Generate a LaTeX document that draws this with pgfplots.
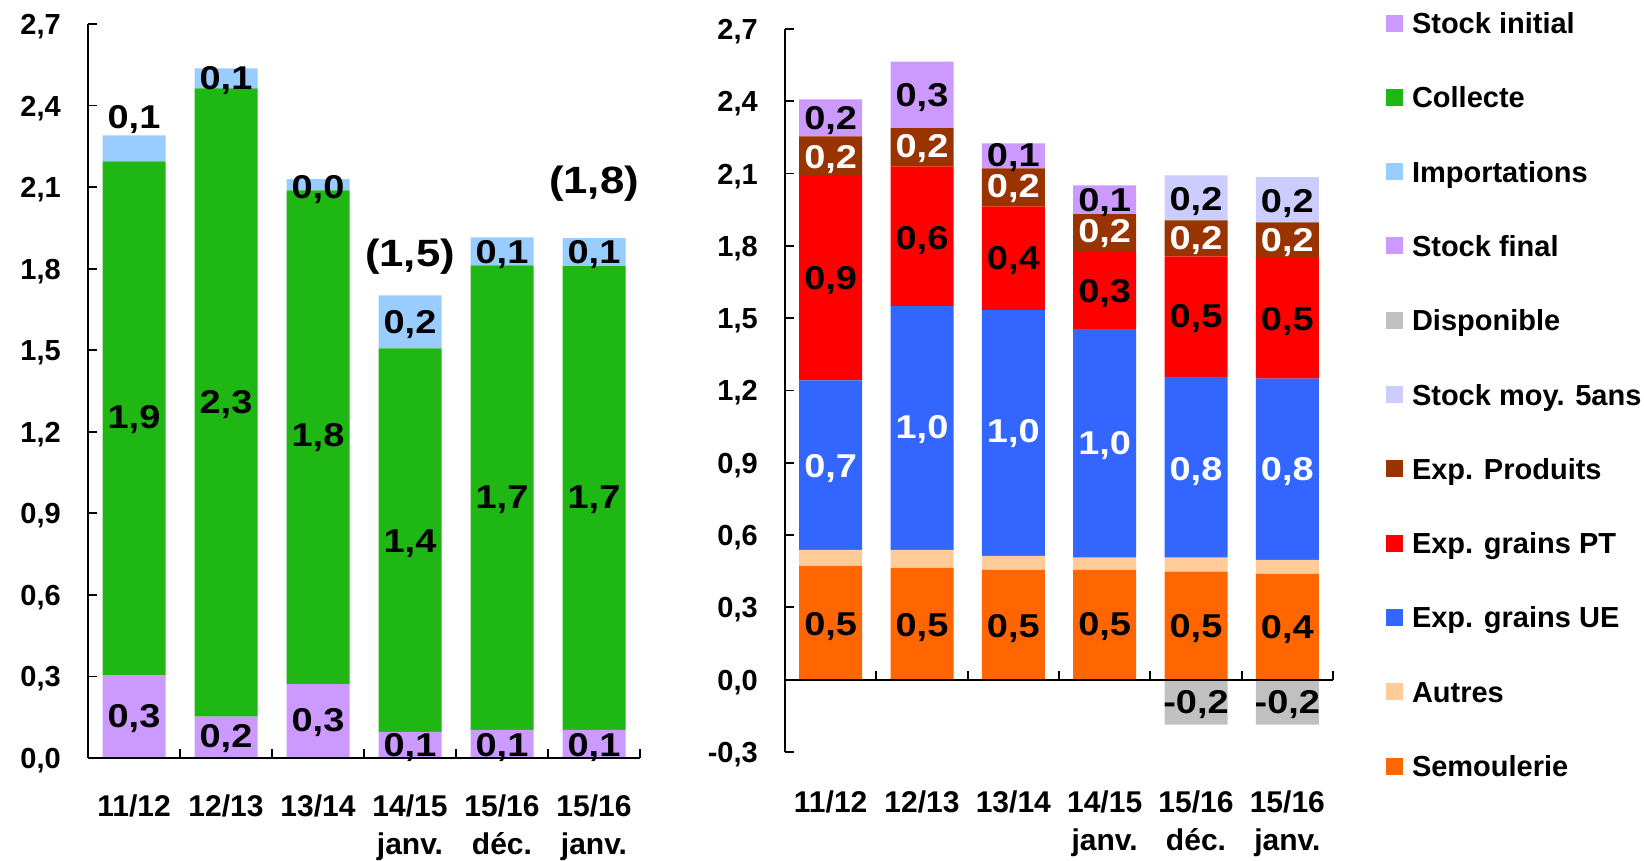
\documentclass[border=0pt]{standalone}
\usepackage{fontspec}
\setmainfont{Liberation Sans}
\newfontfamily\numfont{Liberation Sans}[FakeStretch=1.15]
\usepackage{pgfplots}
\pgfplotsset{compat=1.18}

\definecolor{cstock}{HTML}{CC99FF}
\definecolor{ccoll}{HTML}{1FB714}
\definecolor{cimp}{HTML}{99CCFF}
\definecolor{cdisp}{HTML}{C0C0C0}
\definecolor{cmoy}{HTML}{CCCCFF}
\definecolor{cprod}{HTML}{993300}
\definecolor{cpt}{HTML}{FF0000}
\definecolor{cue}{HTML}{3366FF}
\definecolor{caut}{HTML}{FFCC99}
\definecolor{csem}{HTML}{FF6600}

\newcommand{\lblfont}{\fontsize{33}{37}\selectfont\numfont\bfseries}
\newcommand{\bigfont}{\fontsize{38}{42}\selectfont\numfont\bfseries}
\tikzset{lab/.style={font=\lblfont, inner sep=0pt, text height=23pt, text depth=0pt, anchor=center},
         wlab/.style={lab, text=white}}

\pgfplotsset{
  mybar/.style={
    scale only axis, axis on top, enlargelimits=false,
    xmin=-0.5, xmax=5.5,
    axis x line*=bottom, axis y line*=left,
    axis line style={line width=1.8pt, -},
    tick align=inside,
    major tick length=9pt, minor tick length=9pt,
    tick style={line width=1.8pt, black},
    xtick={0,...,5},
    xticklabels={{11/12\\\mbox{}},{12/13\\\mbox{}},{13/14\\\mbox{}},{14/15\\janv.},{15/16\\déc.},{15/16\\janv.}},
    major x tick style={draw=none},
    xticklabel style={align=center, anchor=base, inner sep=0pt,
      font=\fontsize{30}{38}\selectfont\bfseries},
    yticklabel style={anchor=east, xshift=-27pt, inner sep=0pt, text height=21pt, text depth=0pt,
      font=\fontsize{29}{34}\selectfont\bfseries},
    /pgf/number format/use comma, /pgf/number format/fixed,
    /pgf/number format/fixed zerofill, /pgf/number format/precision=1,
    /pgf/number format/assume math mode=true,
    ybar stacked, bar width=63pt,
  },
  overlay/.style={scale only axis, enlargelimits=false, hide axis, clip=false,
    xmin=-0.5, xmax=5.5}
}

\begin{document}
\begin{tikzpicture}
\useasboundingbox (0,0) rectangle (1644pt,861pt);

% ---------------- Left panel ----------------
\begin{axis}[mybar, at={(88pt,103pt)}, anchor=south west, width=552pt, height=734pt,
  ymin=0, ymax=2.7, ytick={0,0.3,0.6,0.9,1.2,1.5,1.8,2.1,2.4,2.7},
  minor xtick={0.5,1.5,2.5,3.5,4.5,5.5},
  xticklabel style={yshift=-97pt}]
\addplot[fill=cstock, draw=none] coordinates {(0,0.305) (1,0.152) (2,0.272) (3,0.096) (4,0.103) (5,0.103)};
\addplot[fill=ccoll, draw=none] coordinates {(0,1.890) (1,2.311) (2,1.816) (3,1.411) (4,1.709) (5,1.706)};
\addplot[fill=cimp, draw=none] coordinates {(0,0.095) (1,0.074) (2,0.041) (3,0.195) (4,0.103) (5,0.103)};
\end{axis}

% labels of the left panel (drawn above the bars)
\begin{axis}[overlay, at={(88pt,103pt)}, anchor=south west, width=552pt, height=734pt,
  ymin=0, ymax=2.7]
\node[lab] at (axis cs:0,0.154) {0,3};
\node[lab] at (axis cs:0,1.254) {1,9};
\node[lab] at (axis cs:0,2.357) {0,1};
\node[lab] at (axis cs:1,0.081) {0,2};
\node[lab] at (axis cs:1,1.310) {2,3};
\node[lab] at (axis cs:1,2.500) {0,1};
\node[lab] at (axis cs:2,0.140) {0,3};
\node[lab] at (axis cs:2,1.187) {1,8};
\node[lab] at (axis cs:2,2.100) {0,0};
\node[lab] at (axis cs:3,0.048) {0,1};
\node[lab] at (axis cs:3,0.800) {1,4};
\node[lab] at (axis cs:3,1.603) {0,2};
\node[lab, font=\bigfont, text height=27pt] at (axis cs:3,1.856) {(1,5)};
\node[lab] at (axis cs:4,0.048) {0,1};
\node[lab] at (axis cs:4,0.960) {1,7};
\node[lab] at (axis cs:4,1.860) {0,1};
\node[lab] at (axis cs:5,0.048) {0,1};
\node[lab] at (axis cs:5,0.960) {1,7};
\node[lab] at (axis cs:5,1.860) {0,1};
\node[lab, font=\bigfont, text height=27pt] at (axis cs:5,2.125) {(1,8)};
\end{axis}

% ---------------- Right panel ----------------
\begin{axis}[mybar, at={(785pt,109pt)}, anchor=south west, width=548pt, height=723pt,
  ymin=-0.3, ymax=2.7, ytick={-0.3,0,0.3,0.6,0.9,1.2,1.5,1.8,2.1,2.4,2.7},
  x axis line style={draw=none},
  xticklabel style={yshift=-99pt},
  legend image code/.code={\fill[#1, draw=none] (0pt,-8.5pt) rectangle (17pt,8.5pt);},
  legend cell align=left,
  legend style={at={(1.0967,1.0228)}, anchor=north west, draw=none, fill=none,
    inner sep=0pt, outer sep=0pt, row sep=53.3pt, column sep=9pt,
    font=\fontsize{29}{34}\selectfont\bfseries,
    nodes={inner sep=0pt, text height=21pt, text depth=0pt}}]
\addplot[fill=csem, draw=none, forget plot] coordinates {(0,0.472) (1,0.464) (2,0.456) (3,0.456) (4,0.448) (5,0.439)};
\addplot[fill=caut, draw=none, forget plot] coordinates {(0,0.067) (1,0.075) (2,0.058) (3,0.050) (4,0.058) (5,0.058)};
\addplot[fill=cue, draw=none, forget plot] coordinates {(0,0.703) (1,1.011) (2,1.019) (3,0.949) (4,0.750) (5,0.752)};
\addplot[fill=cpt, draw=none, forget plot] coordinates {(0,0.847) (1,0.580) (2,0.431) (3,0.319) (4,0.501) (5,0.500)};
\addplot[fill=cprod, draw=none, forget plot] coordinates {(0,0.165) (1,0.159) (2,0.158) (3,0.158) (4,0.149) (5,0.149)};
\addplot[fill=cstock, draw=none, forget plot] coordinates {(0,0.154) (1,0.276) (2,0.103) (3,0.119) (4,0) (5,0)};
\addplot[fill=cmoy, draw=none, forget plot] coordinates {(0,0) (1,0) (2,0) (3,0) (4,0.187) (5,0.187)};

\addlegendimage{fill=cstock}\addlegendentry{Stock initial}
\addlegendimage{fill=ccoll}\addlegendentry{Collecte}
\addlegendimage{fill=cimp}\addlegendentry{Importations}
\addlegendimage{fill=cstock}\addlegendentry{Stock final}
\addlegendimage{fill=cdisp}\addlegendentry{Disponible}
\addlegendimage{fill=cmoy}\addlegendentry{Stock moy. 5ans}
\addlegendimage{fill=cprod}\addlegendentry{Exp. Produits}
\addlegendimage{fill=cpt}\addlegendentry{Exp. grains PT}
\addlegendimage{fill=cue}\addlegendentry{Exp. grains UE}
\addlegendimage{fill=caut}\addlegendentry{Autres}
\addlegendimage{fill=csem}\addlegendentry{Semoulerie}
\end{axis}

% ---------------- Right panel: negative "Disponible" bars, zero line and labels ----------------
\begin{axis}[overlay, at={(785pt,109pt)}, anchor=south west, width=548pt, height=723pt,
  ymin=-0.3, ymax=2.7, ybar, bar width=63pt]
\addplot[fill=cdisp, draw=none] coordinates {(4,-0.186) (5,-0.186)};
\draw[line width=1.8pt] (axis cs:-0.5,0) -- (axis cs:5.5,0);
\draw[line width=1.8pt] (axis cs:0.5,0) -- ++(0pt,9pt);
\draw[line width=1.8pt] (axis cs:1.5,0) -- ++(0pt,9pt);
\draw[line width=1.8pt] (axis cs:2.5,0) -- ++(0pt,9pt);
\draw[line width=1.8pt] (axis cs:3.5,0) -- ++(0pt,9pt);
\draw[line width=1.8pt] (axis cs:4.5,0) -- ++(0pt,9pt);
\draw[line width=1.8pt] (axis cs:5.5,0) -- ++(0pt,9pt);
\node[lab] at (axis cs:4,-0.094) {-0,2};
\node[lab] at (axis cs:5,-0.094) {-0,2};
\node[lab]  at (axis cs:0,2.330) {0,2};
\node[wlab] at (axis cs:0,2.170) {0,2};
\node[lab]  at (axis cs:0,1.667) {0,9};
\node[wlab] at (axis cs:0,0.887) {0,7};
\node[lab]  at (axis cs:0,0.233) {0,5};
\node[lab]  at (axis cs:1,2.427) {0,3};
\node[wlab] at (axis cs:1,2.213) {0,2};
\node[lab]  at (axis cs:1,1.833) {0,6};
\node[wlab] at (axis cs:1,1.050) {1,0};
\node[lab]  at (axis cs:1,0.228) {0,5};
\node[lab]  at (axis cs:2,2.176) {0,1};
\node[wlab] at (axis cs:2,2.047) {0,2};
\node[lab]  at (axis cs:2,1.750) {0,4};
\node[wlab] at (axis cs:2,1.032) {1,0};
\node[lab]  at (axis cs:2,0.224) {0,5};
\node[lab]  at (axis cs:3,1.992) {0,1};
\node[wlab] at (axis cs:3,1.861) {0,2};
\node[lab]  at (axis cs:3,1.612) {0,3};
\node[wlab] at (axis cs:3,0.983) {1,0};
\node[lab]  at (axis cs:3,0.230) {0,5};
\node[lab]  at (axis cs:4,1.996) {0,2};
\node[wlab] at (axis cs:4,1.833) {0,2};
\node[lab]  at (axis cs:4,1.508) {0,5};
\node[wlab] at (axis cs:4,0.873) {0,8};
\node[lab]  at (axis cs:4,0.224) {0,5};
\node[lab]  at (axis cs:5,1.988) {0,2};
\node[wlab] at (axis cs:5,1.826) {0,2};
\node[lab]  at (axis cs:5,1.495) {0,5};
\node[wlab] at (axis cs:5,0.873) {0,8};
\node[lab]  at (axis cs:5,0.217) {0,4};
\end{axis}
\end{tikzpicture}
\end{document}
